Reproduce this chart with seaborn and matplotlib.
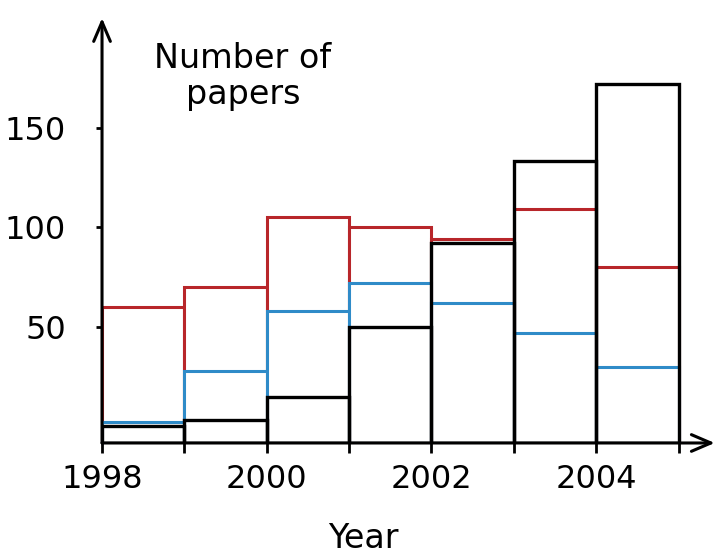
import numpy as np
import matplotlib
matplotlib.use("Agg")
import matplotlib.pyplot as plt
import seaborn as sns

# Données (nombre d'articles par année)
years = [1998, 1999, 2000, 2001, 2002, 2003, 2004]
red_counts = [60, 70, 105, 100, 94, 109, 80]
blue_counts = [2, 28, 58, 72, 62, 47, 30]
black_counts = [0, 3, 15, 50, 92, 133, 172]
year_edges = years + [2005]
label_years = [1998, 2000, 2002, 2004]
y_ticks = [50, 100, 150]

red_col = "#b8262a"
blue_col = "#2f8bc8"

sns.set_style("white")
plt.rcParams["font.family"] = ["DejaVu Sans"]
plt.rcParams["text.color"] = "black"
plt.rcParams["xtick.color"] = "black"
plt.rcParams["ytick.color"] = "black"
plt.rcParams["axes.labelcolor"] = "black"

fig = plt.figure(figsize=(7.2, 5.54), dpi=100)
ax = fig.add_axes([0.1417, 0.2004, 0.851, 0.767])

ymin, ymax = -8.3, 205
# ordre : rouge (fond blanc), bleu (fond blanc), noir (sans fond)
sns.histplot(x=years, weights=red_counts, bins=year_edges, element="bars", fill=True,
             facecolor="white", edgecolor=red_col, linewidth=2.2, ax=ax)
sns.histplot(x=years, weights=blue_counts, bins=year_edges, element="bars", fill=True,
             facecolor="white", edgecolor=blue_col, linewidth=2.2, ax=ax)
sns.histplot(x=years, weights=black_counts, bins=year_edges, element="bars", fill=False,
             color="black", linewidth=2.4, ax=ax)

# les barres partent du bas de l'axe
for bar in ax.patches:
    top = bar.get_y() + bar.get_height()
    bar.set_y(ymin)
    bar.set_height(top - ymin)

ax.set_xlim(1998, 2005.44)
ax.set_ylim(ymin, ymax)

for side in ["top", "right", "left", "bottom"]:
    ax.spines[side].set_visible(False)

arrow = dict(arrowstyle="->,head_length=0.7,head_width=0.3", lw=2.2, color="black",
             mutation_scale=20, shrinkA=0, shrinkB=0)
ax.annotate("", xy=(1.0, 0), xytext=(0, 0), xycoords="axes fraction",
            textcoords="axes fraction", arrowprops=arrow, annotation_clip=False)
ax.annotate("", xy=(0, 1.0), xytext=(0, 0), xycoords="axes fraction",
            textcoords="axes fraction", arrowprops=arrow, annotation_clip=False)

ax.set_xticks(year_edges)
ax.set_xticklabels([str(y) if y in label_years else "" for y in year_edges])
ax.set_yticks(y_ticks)
ax.set_yticklabels([str(v) for v in y_ticks])
ax.tick_params(axis="x", direction="out", length=7, width=2, pad=8, labelsize=23,
               bottom=True, color="black", labelcolor="black")
ax.tick_params(axis="y", direction="out", length=4, width=2, pad=22, labelsize=23,
               left=True, color="black", labelcolor="black")

ax.set_ylabel("")
ax.set_xlabel("Year", fontsize=24, color="black")
ax.xaxis.set_label_coords(0.427, -0.185)

ax.text(0.23, 0.862, "Number of\npapers", transform=ax.transAxes, ha="center",
        va="center", fontsize=24, linespacing=1.1, color="black")

fig.savefig("out.png", dpi=100)
